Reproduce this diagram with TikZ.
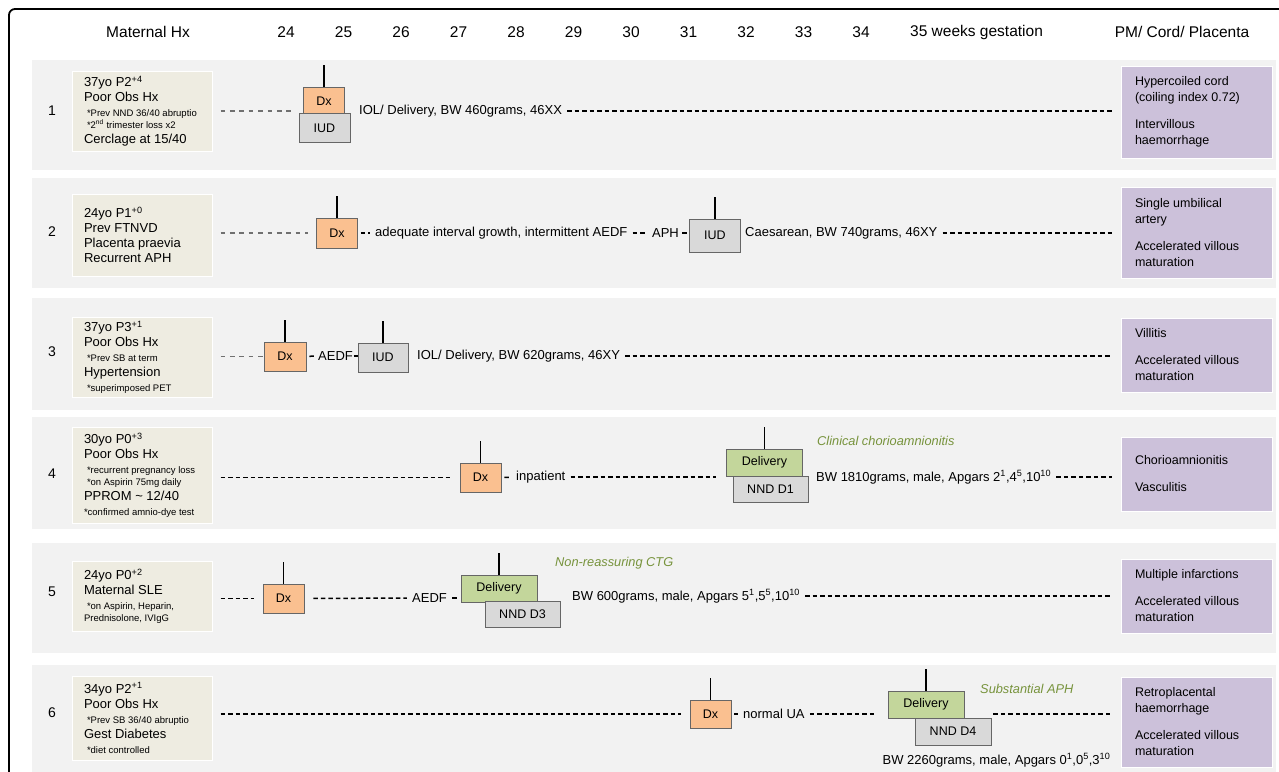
\documentclass[tikz,border=0pt]{standalone}
\usepackage{fontspec}
\setmainfont{Liberation Sans}
\definecolor{bandgray}{HTML}{F2F2F2}
\definecolor{hxtan}{HTML}{EEECE1}
\definecolor{pmlilac}{HTML}{CCC1DA}
\definecolor{dxorange}{HTML}{FAC090}
\definecolor{iudgray}{HTML}{D9D9D9}
\definecolor{delgreen}{HTML}{C3D69B}
\definecolor{notegreen}{HTML}{77933C}
\definecolor{boxline}{HTML}{666666}
\definecolor{hxdash}{HTML}{707070}
\newcommand\hxsmall{\fontsize{9.5}{11}\selectfont}

\begin{document}
\begin{tikzpicture}[x=1pt, y=-1pt,
		band/.style={fill=bandgray},
		head/.style={inner sep=0pt, font=\fontsize{15.5}{18}\selectfont},
		hx/.style={fill=hxtan, draw=white, line width=1pt, text width=116pt, inner xsep=12pt, align=flush left, font=\fontsize{13}{15}\selectfont},
		pm/.style={fill=pmlilac, draw=white, line width=1pt, text width=123pt, inner xsep=14pt, align=flush left, font=\fontsize{12.5}{16}\selectfont},
		ev/.style={draw=boxline, line width=0.8pt, inner sep=0pt, font=\fontsize{12.5}{15}\selectfont},
		dxbox/.style={ev, fill=dxorange, minimum width=41pt, minimum height=28pt},
		iudbox/.style={ev, fill=iudgray, minimum width=51pt, minimum height=29pt},
		delbox/.style={ev, fill=delgreen, minimum width=76pt, minimum height=27pt},
		nndbox/.style={ev, fill=iudgray, minimum width=76pt, minimum height=27pt},
		lbl/.style={inner sep=2pt, font=\fontsize{13}{15}\selectfont},
		note/.style={inner sep=0pt, font=\fontsize{12.8}{14}\selectfont\itshape, text=notegreen},
		tick/.style={line width=1.8pt},
		hxline/.style={draw=hxdash, line width=1.1pt, dash pattern=on 4.7pt off 4.7pt, shorten <=8pt, shorten >=8pt},
		evline/.style={line width=1.5pt, dash pattern=on 4.5pt off 3pt, shorten <=3pt, shorten >=3pt},
		hxblack/.style={evline, shorten <=8pt, shorten >=9pt}]
	\useasboundingbox (0,0) rectangle (1279,771);
	\clip (0,0) rectangle (1279,771);
	\draw[line width=1.8pt, rounded corners=6pt] (9,9) rectangle (1320,820);
	\foreach \t/\b in {60/170,178/288,298/410,417/529,543/653,665/790}
		\fill[band] (32,\t) rectangle (1276,\b);

	\node[head] (mhx) at (148,32) {Maternal Hx};
	\foreach \w [count=\i from 0] in {24,...,34}
		\node[head] (wk\w) at (286+57.5*\i,32) {\w};
	\node[head, anchor=west] (wk35) at (910,32) {35 weeks gestation};
	\node[head] (pmh) at (1182,32) {PM/ Cord/ Placenta};
	\foreach \r/\y in {1/111,2/232,3/352,4/474,5/592,6/713}
		\node[font=\fontsize{14}{16}\selectfont] (row\r) at (52,\y) {\r};

	\node[hx, minimum height=80pt] (hx1) at (142,111) {37yo P2\textsuperscript{+4}\\Poor Obs Hx\\\hspace*{3pt}{\hxsmall *Prev NND 36/40 abruptio}\\[-3pt]\hspace*{3pt}{\hxsmall *2\textsuperscript{nd} trimester loss x2}\\Cerclage at 15/40};
	\node[dxbox] (dx1) at (324,101.5) {Dx};
	\node[iudbox] (iud1) at (324.5,128) {IUD};
	\node[lbl, anchor=west] (t1) at (357,111) {IOL/ Delivery, BW 460grams, 46XX};
	\node[pm, minimum height=92pt] (pm1) at (1196.5,112) {Hypercoiled cord\\(coiling index 0.72)\\[11pt]Intervillous\\haemorrhage};
	\draw[hxline] (hx1.east) -- (hx1.east -| iud1.west);
	\draw[evline, shorten >=9pt] (t1) -- (t1 -| pm1.west);

	\node[hx, minimum height=82pt] (hx2) at (142,235) {24yo P1\textsuperscript{+0}\\Prev FTNVD\\Placenta praevia\\Recurrent APH};
	\node[dxbox, minimum height=30pt] (dx2) at (337,233) {Dx};
	\node[lbl, anchor=west] (t2a) at (373,233) {adequate interval growth, intermittent AEDF};
	\node[lbl] (t2b) at (665.5,233) {APH};
	\node[iudbox, minimum height=33pt] (iud2) at (715,235.5) {IUD};
	\node[lbl, anchor=west] (t2c) at (743,233) {Caesarean, BW 740grams, 46XY};
	\node[pm, minimum height=91pt] (pm2) at (1196.5,232.5) {Single umbilical\\artery\\[11pt]Accelerated villous\\maturation};
	\draw[hxline] (dx2 -| hx2.east) -- (dx2);
	\draw[evline] (dx2) -- (t2a);
	\draw[evline] (t2a) -- (t2b);
	\draw[evline, shorten <=1pt, shorten >=1pt] (t2b) -- (t2b -| iud2.west);
	\draw[evline, shorten >=9pt] (t2c) -- (t2c -| pm2.west);

	\node[hx, minimum height=77pt] (hx3) at (142,357.5) {37yo P3\textsuperscript{+1}\\Poor Obs Hx\\\hspace*{3pt}{\hxsmall *Prev SB at term}\\Hypertension\\\hspace*{3pt}{\hxsmall *superimposed PET}};
	\node[dxbox, minimum width=42pt, minimum height=29pt] (dx3) at (285,356.5) {Dx};
	\node[lbl, inner sep=0.5pt] (t3a) at (335.5,356) {AEDF};
	\node[iudbox, minimum width=50pt] (iud3) at (383,357.5) {IUD};
	\node[lbl, anchor=west] (t3b) at (415,356) {IOL/ Delivery, BW 620grams, 46XY};
	\node[pm, minimum height=74pt] (pm3) at (1196.5,355) {Villitis\\[11pt]Accelerated villous\\maturation};
	\draw[hxline, shorten >=1pt] (dx3 -| hx3.east) -- (dx3);
	\draw[evline] (dx3) -- (t3a);
	\draw[evline, shorten <=0pt, shorten >=0pt] (t3a) -- (t3a -| iud3.west);
	\draw[evline, shorten >=9pt] (t3b) -- (t3b -| pm3.west);

	\node[hx, minimum height=96pt] (hx4) at (142,475) {30yo P0\textsuperscript{+3}\\Poor Obs Hx\\\hspace*{3pt}{\hxsmall *recurrent pregnancy loss}\\[-3pt]\hspace*{3pt}{\hxsmall *on Aspirin 75mg daily}\\PPROM \textasciitilde{} 12/40\\{\hxsmall *confirmed amnio-dye test}};
	\node[dxbox, minimum height=29pt] (dx4) at (480.5,477.5) {Dx};
	\node[lbl, anchor=west] (t4a) at (514,477) {inpatient};
	\node[delbox] (del4) at (764.5,462.5) {Delivery};
	\node[nndbox, minimum width=75pt, minimum height=26pt] (nnd4) at (770.5,489) {NND D1};
	\node[note, anchor=west] (c4) at (817,441) {Clinical chorioamnionitis};
	\node[lbl, anchor=west] (t4b) at (814,477) {BW 1810grams, male, Apgars 2\textsuperscript{1},4\textsuperscript{5},10\textsuperscript{10}};
	\node[pm, minimum height=74pt] (pm4) at (1196.5,474) {Chorioamnionitis\\[11pt]Vasculitis\\[6pt]};
	\draw[hxblack] (dx4 -| hx4.east) -- (dx4);
	\draw[evline] (dx4) -- (t4a);
	\draw[evline, shorten >=10pt] (t4a) -- (t4a -| del4.west);
	\draw[evline, shorten >=9pt] (t4b) -- (t4b -| pm4.west);

	\node[hx, minimum height=70pt] (hx5) at (142,596) {24yo P0\textsuperscript{+2}\\Maternal SLE\\\hspace*{3pt}{\hxsmall *on Aspirin, Heparin,}\\[-3pt]{\hxsmall Prednisolone, IVIgG}};
	\node[dxbox, minimum height=29pt] (dx5) at (283.5,598.5) {Dx};
	\node[lbl] (t5a) at (429.5,598) {AEDF};
	\node[delbox] (del5) at (499,588.5) {Delivery};
	\node[nndbox, minimum width=75pt, minimum height=26pt] (nnd5) at (522.5,614) {NND D3};
	\node[note, anchor=west] (c5) at (555,563) {Non-reassuring CTG};
	\node[lbl, anchor=west] (t5b) at (570,596) {BW 600grams, male, Apgars 5\textsuperscript{1},5\textsuperscript{5},10\textsuperscript{10}};
	\node[pm, minimum height=74pt] (pm5) at (1196.5,596) {Multiple infarctions\\[11pt]Accelerated villous\\maturation};
	\draw[hxblack] (dx5 -| hx5.east) -- (dx5);
	\draw[evline, shorten <=9pt] (dx5) -- (t5a);
	\draw[evline] (t5a) -- (t5a -| del5.west);
	\draw[evline, shorten >=9pt] (t5b) -- (t5b -| pm5.west);

	\node[hx, minimum height=84pt] (hx6) at (142,718) {34yo P2\textsuperscript{+1}\\Poor Obs Hx\\\hspace*{3pt}{\hxsmall *Prev SB 36/40 abruptio}\\Gest Diabetes\\\hspace*{3pt}{\hxsmall *diet controlled}};
	\node[dxbox] (dx6) at (710.5,714) {Dx};
	\node[lbl, anchor=west] (t6a) at (741,714) {normal UA};
	\node[delbox] (del6) at (926,704.5) {Delivery};
	\node[nndbox] (nnd6) at (953,731.5) {NND D4};
	\node[note, anchor=west] (c6) at (980,689) {Substantial APH};
	\node[lbl] (t6b) at (996.5,760) {BW 2260grams, male, Apgars 0\textsuperscript{1},0\textsuperscript{5},3\textsuperscript{10}};
	\node[pm, minimum height=90pt] (pm6) at (1196.5,722) {Retroplacental\\haemorrhage\\[11pt]Accelerated villous\\maturation};
	\draw[hxblack] (dx6 -| hx6.east) -- (dx6);
	\draw[evline] (dx6) -- (t6a);
	\draw[evline, shorten >=11pt] (t6a) -- (t6a -| del6.west);
	\draw[evline, shorten <=2pt, shorten >=9pt] (t6a -| nnd6.east) -- (t6a -| pm6.west);

	\foreach \n in {dx1,dx2,iud2,dx3,iud3,dx4,del4,dx5,del5,dx6,del6}
		\draw[tick] (\n.north) -- ++(0,-22);
\end{tikzpicture}
\end{document}
